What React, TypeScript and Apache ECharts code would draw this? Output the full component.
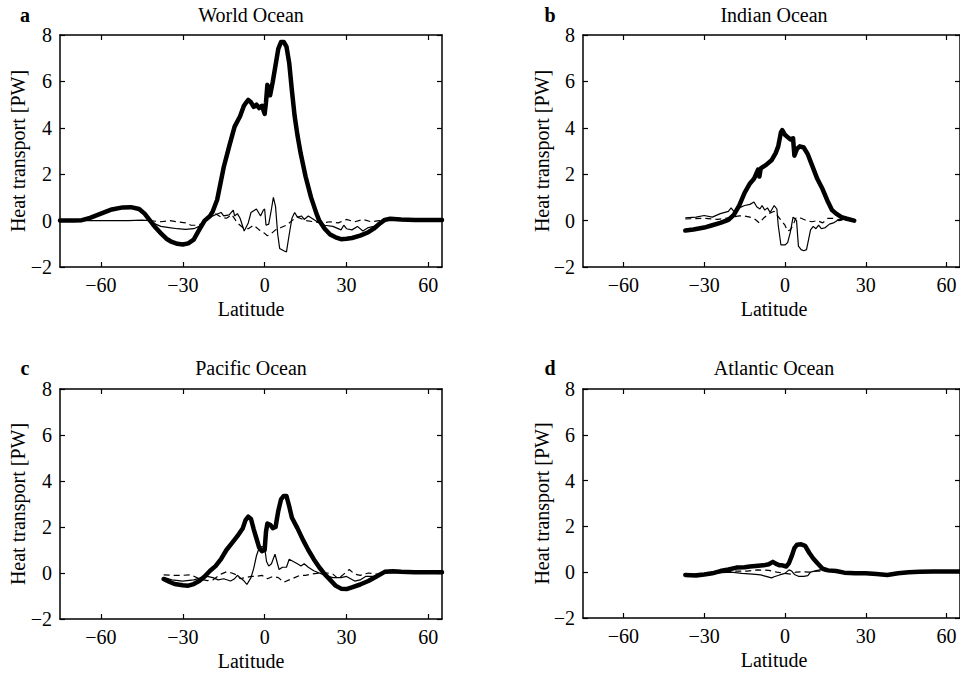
import React, { useEffect, useRef } from "react";
import * as echarts from "echarts";

const SERIF = "'Liberation Serif', 'Times New Roman', serif";

const xTicks = [-60, -30, 0, 30, 60];
const yTicks = [-2, 0, 2, 4, 6, 8];
const panelTitles = ["World Ocean", "Indian Ocean", "Pacific Ocean", "Atlantic Ocean"];
const panelLetters = ["a", "b", "c", "d"];

// World Ocean
const worldTotal: [number, number][] = [
  [-75, 0], [-70, 0], [-67, 0.02], [-64, 0.12], [-60, 0.3], [-56, 0.48], [-52, 0.57], [-49, 0.58], [-46, 0.5],
  [-44, 0.3], [-42, 0.0], [-40, -0.3], [-38, -0.55], [-36, -0.78], [-34, -0.92], [-32, -1.0], [-30, -1.03],
  [-28, -0.98], [-26, -0.82], [-24, -0.4], [-22, 0.0], [-20, 0.2], [-19, 0.4], [-17.4, 0.9], [-15, 2.3],
  [-13, 3.2], [-11, 4.05], [-9, 4.5], [-7.6, 4.95], [-7, 5.05], [-6, 5.2], [-5, 5.1], [-4, 4.9], [-3, 5.0],
  [-2, 4.85], [-1, 4.95], [0, 4.6], [0.5, 5.1], [1, 5.85], [2, 5.4], [3, 6.0], [4, 6.7], [5, 7.4], [6, 7.7],
  [7, 7.7], [8, 7.5], [9, 6.8], [10, 5.6], [11, 4.5], [12, 3.7], [13.2, 2.9], [15, 1.9], [17, 1.0], [19, 0.3],
  [20, 0.0], [22, -0.35], [24, -0.6], [26, -0.72], [28, -0.8], [30, -0.78], [32, -0.75], [35, -0.65],
  [38, -0.5], [40, -0.35], [42, -0.15], [44, 0.03], [46, 0.08], [50, 0.05], [55, 0.03], [60, 0.03], [65, 0.03],
];
const worldThin: [number, number][] = [
  [-75, 0], [-50, 0], [-45, 0.02], [-42, 0.0], [-40, -0.15], [-38, -0.25], [-35, -0.3], [-32, -0.35],
  [-29, -0.38], [-26, -0.35], [-24, -0.25], [-22, -0.05], [-20, 0.15], [-18, 0.25], [-16, 0.35], [-15, 0.2],
  [-13, 0.25], [-11.5, 0.45], [-11, 0.2], [-10, 0.3], [-9, 0.1], [-7.5, -0.45], [-6, -0.1], [-5, 0.35],
  [-3, 0.5], [-1.5, 0.2], [-0.5, 0.45], [0, 0.5], [0.5, -0.2], [1.5, -0.15], [2.5, 0.5], [3.2, 1.0], [4, 0.6],
  [4.8, -0.6], [5.5, -1.2], [7, -1.3], [8, -1.35], [9, -0.6], [10, 0.1], [11, 0.35], [12, 0.15], [13.5, 0.2],
  [14.5, 0.05], [16, 0.2], [18, 0.05], [20, -0.1], [22, -0.2], [25, -0.25], [28, -0.4], [29, -0.2],
  [30, -0.35], [32, -0.4], [34, -0.25], [36, -0.45], [38, -0.3], [40, -0.25], [42, -0.15], [44, 0.02],
  [46, 0.03], [50, 0.02], [65, 0.02],
];
const worldDashed: [number, number][] = [
  [-42, 0.0], [-38, -0.05], [-35, 0.0], [-32, -0.05], [-29, -0.1], [-27, -0.2], [-25, -0.2], [-22, -0.1],
  [-20, 0.15], [-18, 0.3], [-16, 0.15], [-14, 0.1], [-12, 0.25], [-10, -0.1], [-8, -0.3], [-6, -0.35],
  [-4, -0.2], [-2, -0.4], [0, -0.55], [1, -0.65], [2, -0.6], [4, -0.4], [6, -0.3], [8, -0.2], [10, 0.0],
  [12, 0.15], [15, 0.0], [18, -0.05], [21, -0.1], [24, -0.05], [27, -0.1], [30, 0.05], [33, -0.05],
  [36, 0.05], [39, -0.05], [42, 0.0], [45, 0.0],
];

// Indian Ocean
const indianTotal: [number, number][] = [
  [-37, -0.43], [-34, -0.38], [-30, -0.3], [-27, -0.2], [-24, -0.1], [-21, 0.03], [-19, 0.25], [-17, 0.65],
  [-15, 1.2], [-13, 1.6], [-11.5, 1.8], [-10, 2.2], [-9.5, 1.9], [-9, 2.25], [-7, 2.4], [-5, 2.6],
  [-3.5, 2.9], [-2.5, 3.2], [-1.5, 3.8], [-1, 3.9], [0, 3.7], [1, 3.6], [2, 3.5], [3, 3.55], [3.5, 2.8],
  [4.5, 3.1], [5.5, 3.2], [7, 3.15], [8.5, 2.85], [10, 2.4], [12, 1.8], [14, 1.35], [16, 0.8], [17.5, 0.45],
  [19, 0.3], [21, 0.15], [23, 0.08], [25.7, 0.0],
];
const indianThin: [number, number][] = [
  [-37, 0.12], [-33, 0.15], [-30, 0.22], [-27, 0.15], [-24, 0.3], [-21, 0.4], [-20, 0.55], [-19, 0.4],
  [-17, 0.55], [-15, 0.65], [-13, 0.7], [-11.5, 0.8], [-10.5, 0.6], [-9.3, 0.5], [-8.5, 0.65], [-7.5, 0.45],
  [-6.5, 0.55], [-5.5, 0.35], [-4, 0.65], [-3, 0.5], [-2.5, -0.2], [-1.5, -1.05], [0, -1.05], [1, -0.95],
  [2, -0.5], [3, 0.15], [3.5, 0.1], [4.3, 0.0], [5, -1.1], [6, -1.25], [7, -1.3], [8, -1.25], [8.8, -0.8],
  [9.5, -0.4], [10.5, -0.25], [11.5, -0.35], [12.5, -0.2], [13.5, -0.35], [15, -0.3], [16.5, -0.15],
  [18, -0.1], [20, 0.05], [22, 0.05], [25.7, 0.0],
];
const indianDashed: [number, number][] = [
  [-37, 0.07], [-30, 0.1], [-25, 0.05], [-22, 0.1], [-20, 0.15], [-17, 0.2], [-15, 0.2], [-13, 0.15],
  [-11, 0.05], [-9.5, -0.1], [-8, 0.1], [-6, 0.3], [-4, 0.4], [-2, 0.1], [0, -0.2], [1, -0.45], [2, -0.4],
  [3, -0.2], [4, 0.1], [5, 0.15], [6, 0.1], [8, 0.0], [10, -0.05], [12, 0.0], [14, -0.1], [16, 0.1],
  [18, 0.1], [20, 0.0], [22, 0.05], [25.7, 0.0],
];

// Pacific Ocean
const pacificTotal: [number, number][] = [
  [-37, -0.26], [-35, -0.38], [-33, -0.48], [-30, -0.53], [-28, -0.55], [-26, -0.48], [-24, -0.35],
  [-22, -0.15], [-20, 0.1], [-18, 0.3], [-16, 0.6], [-14, 1.0], [-12, 1.3], [-10, 1.6], [-8, 1.95],
  [-7, 2.3], [-6, 2.45], [-5, 2.35], [-4, 1.9], [-3, 1.5], [-2, 1.1], [-1, 0.95], [0, 1.0], [0.5, 1.8],
  [1, 2.15], [2, 2.1], [3, 1.95], [4, 2.0], [5, 2.7], [6, 3.2], [7, 3.35], [8, 3.35], [9, 2.9], [10, 2.4],
  [12, 1.95], [14, 1.45], [16, 1.0], [18, 0.6], [20, 0.25], [22, -0.05], [24, -0.3], [26, -0.55],
  [28, -0.68], [30, -0.7], [32, -0.62], [35, -0.5], [38, -0.35], [41, -0.15], [44, 0.05], [47, 0.08],
  [50, 0.05], [55, 0.03], [65, 0.03],
];
const pacificThin: [number, number][] = [
  [-37, -0.19], [-34, -0.3], [-30, -0.35], [-26, -0.3], [-23, -0.2], [-21, -0.15], [-19, -0.2], [-17, -0.3],
  [-15, -0.25], [-12.5, -0.35], [-11, -0.25], [-10, -0.1], [-9, -0.2], [-7.5, -0.35], [-6.5, -0.5],
  [-5, -0.2], [-4, 0.2], [-3, 0.75], [-2, 1.1], [-1, 1.15], [0, 1.1], [0.7, 0.5], [1.5, 0.3], [2.5, 0.4],
  [3.8, 0.82], [4.5, 0.5], [5.3, 0.15], [6.5, 0.25], [8, 0.25], [9, 0.6], [10.5, 0.5], [12, 0.4],
  [13.3, 0.3], [14.5, 0.4], [16, 0.25], [18, 0.1], [20, 0.0], [22, -0.1], [25, -0.2], [28, -0.2],
  [30, -0.15], [33, -0.35], [35, -0.3], [37, -0.15], [40, -0.15], [42, -0.05], [44, 0.0], [47, 0.02],
  [55, 0.02], [65, 0.02],
];
const pacificDashed: [number, number][] = [
  [-37, -0.08], [-34, -0.1], [-30, -0.1], [-27, -0.08], [-24, -0.25], [-21, -0.33], [-19, -0.3],
  [-16, -0.05], [-14, 0.05], [-12, 0.0], [-10, -0.1], [-9, -0.25], [-7, -0.2], [-5, -0.15], [-3, -0.15],
  [-1, -0.1], [1, -0.25], [3, -0.15], [5, -0.2], [7, -0.4], [9, -0.3], [11, -0.2], [13, -0.1], [15, -0.1],
  [17, -0.05], [20, 0.0], [23, 0.0], [25, -0.05], [27, -0.25], [29, -0.05], [31, 0.15], [33, -0.05],
  [35, -0.1], [38, 0.0], [41, -0.05], [44, 0.0],
];

// Atlantic Ocean
const atlanticTotal: [number, number][] = [
  [-37, -0.12], [-33, -0.14], [-30, -0.1], [-27, -0.05], [-24, 0.05], [-21, 0.12], [-18, 0.2], [-15, 0.22],
  [-13, 0.25], [-10, 0.28], [-8, 0.3], [-6, 0.35], [-4.5, 0.45], [-3, 0.35], [-2, 0.3], [-1, 0.3],
  [0.5, 0.25], [1.5, 0.4], [2.5, 0.7], [3.5, 1.05], [4.5, 1.2], [6, 1.22], [7.5, 1.15], [9, 0.85],
  [10.5, 0.6], [12, 0.4], [14, 0.15], [16, 0.08], [19, 0.05], [22, -0.02], [26, -0.05], [30, -0.05],
  [34, -0.08], [38, -0.12], [42, -0.05], [46, 0.0], [50, 0.02], [55, 0.03], [60, 0.03], [65, 0.03],
];
const atlanticThin: [number, number][] = [
  [-37, -0.1], [-30, -0.08], [-25, -0.03], [-20, 0.0], [-16, -0.05], [-12, -0.08], [-9, -0.12], [-7, -0.18],
  [-5, -0.25], [-4, -0.2], [-2, -0.12], [0, -0.05], [1.5, 0.1], [2.5, 0.05], [3.5, -0.1], [5, -0.18],
  [7, -0.18], [8.5, -0.15], [9.5, 0.0], [12, 0.08], [14, 0.12], [16, 0.05], [20, 0.0], [25, -0.05],
  [30, -0.05], [40, -0.08], [50, 0.0], [65, 0.02],
];
const atlanticDashed: [number, number][] = [
  [-37, -0.08], [-30, -0.05], [-24, 0.0], [-18, 0.05], [-14, 0.05], [-10, 0.1], [-6, 0.08], [-3, 0.0],
  [0, -0.05], [2, -0.08], [4, 0.0], [6, 0.02], [9, 0.0], [12, 0.05], [15, 0.05], [18, 0.0], [22, 0.0],
];

const panelData = [
  [worldTotal, worldThin, worldDashed],
  [indianTotal, indianThin, indianDashed],
  [pacificTotal, pacificThin, pacificDashed],
  [atlanticTotal, atlanticThin, atlanticDashed],
];

const grids = [
  { left: 60, top: 35, width: 382, height: 232 },
  { left: 583, top: 35, width: 382, height: 232 },
  { left: 60, top: 389, width: 382, height: 230 },
  { left: 583, top: 389, width: 382, height: 229 },
];

const minus = (v: number) => String(v).replace("-", "\u2212");

export default function App() {
  const ref = useRef<HTMLDivElement>(null);
  useEffect(() => {
    if (!ref.current) return;
    const chart = echarts.init(ref.current, undefined, { renderer: "svg" });
    const axisLine = { show: true, onZero: false, lineStyle: { color: "#000", width: 1.5 } };
    const tickStyle = { color: "#000", width: 1.2 };
    const labelStyle = { color: "#000", fontSize: 20, fontFamily: SERIF };
    const xAxis: any[] = [];
    const yAxis: any[] = [];
    const series: any[] = [];
    const graphic: any[] = [];
    grids.forEach((g, i) => {
      xAxis.push({
        type: "value", gridIndex: i, min: -75, max: 65, position: "bottom",
        axisLine, splitLine: { show: false },
        axisTick: { show: true, inside: true, length: 5, customValues: xTicks, lineStyle: tickStyle },
        axisLabel: { show: true, customValues: xTicks, margin: 8, formatter: minus, ...labelStyle },
      });
      xAxis.push({
        type: "value", gridIndex: i, min: -75, max: 65, position: "top",
        axisLine, splitLine: { show: false },
        axisTick: { show: true, inside: true, length: 5, customValues: xTicks, lineStyle: tickStyle },
        axisLabel: { show: false },
      });
      yAxis.push({
        type: "value", gridIndex: i, min: -2, max: 8, interval: 2, position: "left",
        axisLine, splitLine: { show: false },
        axisTick: { show: true, inside: true, length: 5, customValues: yTicks, lineStyle: tickStyle },
        axisLabel: { show: true, margin: 8, customValues: yTicks, formatter: minus, ...labelStyle },
      });
      yAxis.push({
        type: "value", gridIndex: i, min: -2, max: 8, interval: 2, position: "right",
        axisLine, splitLine: { show: false },
        axisTick: { show: true, inside: true, length: 5, customValues: yTicks, lineStyle: tickStyle },
        axisLabel: { show: false },
      });
      const [total, thin, dashed] = panelData[i];
      const base = { type: "line", xAxisIndex: 2 * i, yAxisIndex: 2 * i, showSymbol: false, symbol: "none", silent: true };
      series.push({ ...base, name: panelTitles[i] + " dashed", data: dashed, lineStyle: { color: "#000", width: 1.2, type: [6, 4] } });
      series.push({ ...base, name: panelTitles[i] + " thin", data: thin, lineStyle: { color: "#000", width: 1.2 } });
      series.push({ ...base, name: panelTitles[i] + " total", data: total, lineStyle: { color: "#000", width: 4.5, join: "round", cap: "round" } });

      const cx = i % 2 === 0 ? 251 : 774;
      const titleY = i < 2 ? 15 : 368;
      const letterX = i % 2 === 0 ? 25 : 550;
      const yNameX = i % 2 === 0 ? 18 : 542;
      graphic.push({
        type: "text", x: cx, y: titleY,
        style: { text: panelTitles[i], fill: "#000", font: `20px ${SERIF}`, textAlign: "center", textVerticalAlign: "middle" },
      });
      graphic.push({
        type: "text", x: letterX, y: titleY,
        style: { text: panelLetters[i], fill: "#000", font: `bold 20px ${SERIF}`, textAlign: "center", textVerticalAlign: "middle" },
      });
      graphic.push({
        type: "text", x: yNameX, y: g.top + g.height / 2, rotation: Math.PI / 2,
        style: { text: "Heat transport [PW]", fill: "#000", font: `20px ${SERIF}`, textAlign: "center", textVerticalAlign: "middle" },
      });
      graphic.push({
        type: "text", x: cx, y: g.top + g.height + 42,
        style: { text: "Latitude", fill: "#000", font: `20px ${SERIF}`, textAlign: "center", textVerticalAlign: "middle" },
      });
    });
    chart.setOption({
      animation: false,
      backgroundColor: "#fff",
      grid: grids.map((g) => ({ ...g, containLabel: false })),
      xAxis,
      yAxis,
      series,
      graphic,
    });
    return () => chart.dispose();
  }, []);
  return <div ref={ref} style={{ position: "fixed", left: 0, top: 0, width: 960, height: 673 }} />;
}
